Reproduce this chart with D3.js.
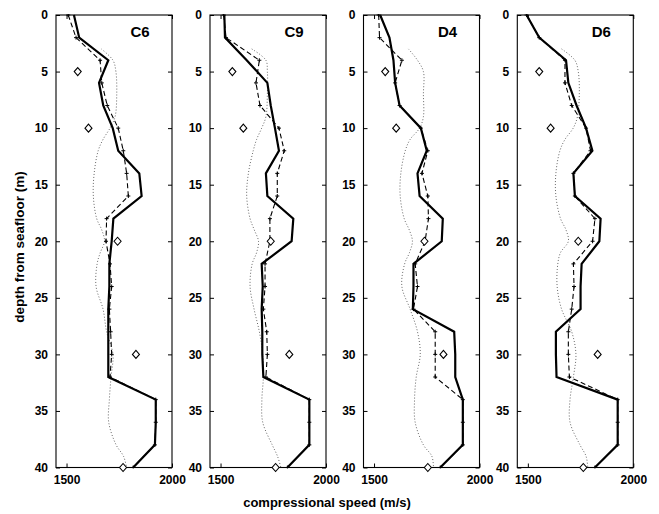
<!DOCTYPE html>
<html>
<head>
<meta charset="utf-8">
<script src="https://cdn.jsdelivr.net/npm/d3@7"></script>
<style>
  html, body { margin: 0; padding: 0; background: #fff; }
  svg { display: block; }
  text { font-family: "Liberation Sans", Arial, sans-serif; font-weight: bold; fill: #000; }
</style>
</head>
<body>
<svg id="chart" width="659" height="514"></svg>
<script>
// Site names, one panel each
const sites = ["C6", "C9", "D4", "D6"];

// Depth nodes (m) of the layered profiles
const nodeDepths = [0, 2, 4, 6, 8, 10, 12, 14, 16, 18, 20, 22, 24, 26, 28, 30, 32, 34, 36, 38, 40];

// Inverted profile, solid line (m/s)
const solidC6 = [1535, 1560, 1698, 1654, 1674, 1719, 1745, 1845, 1856, 1722, 1714, 1703, 1703, 1698, 1698, 1698, 1698, 1923, 1923, 1919, 1816];
const solidC9 = [1518, 1521, 1624, 1722, 1738, 1758, 1777, 1715, 1722, 1845, 1837, 1695, 1700, 1695, 1698, 1698, 1703, 1921, 1921, 1921, 1817];
const solidD4 = [1529, 1573, 1592, 1600, 1621, 1722, 1750, 1706, 1716, 1826, 1821, 1687, 1687, 1684, 1880, 1885, 1885, 1921, 1921, 1921, 1814];
const solidD6 = [1494, 1554, 1681, 1692, 1731, 1776, 1806, 1716, 1723, 1845, 1839, 1755, 1750, 1750, 1633, 1633, 1636, 1926, 1926, 1926, 1818];

// Second profile, dashed line with node markers (m/s)
const dashC6 = [1508, 1545, 1659, 1667, 1693, 1745, 1769, 1785, 1793, 1690, 1687, 1706, 1714, 1703, 1709, 1714, 1706, 1923, 1923, 1919, 1816];
const dashC9 = [1515, 1526, 1684, 1668, 1687, 1777, 1802, 1769, 1769, 1734, 1734, 1711, 1711, 1703, 1719, 1722, 1715, 1921, 1921, 1921, 1817];
const dashD4 = [1522, 1526, 1632, 1600, 1621, 1722, 1755, 1727, 1755, 1758, 1742, 1695, 1706, 1687, 1790, 1790, 1790, 1921, 1921, 1921, 1814];
const dashD6 = [1494, 1554, 1676, 1676, 1708, 1776, 1797, 1716, 1723, 1818, 1807, 1716, 1719, 1708, 1692, 1692, 1697, 1926, 1926, 1926, 1818];

// Smooth reference profile, dotted line
const dotDepths = [3, 4, 5, 7, 9, 10, 11, 12, 14, 16, 18, 19, 20, 21, 22, 24, 26, 28, 30, 32, 34, 36, 38, 39, 40];
const dotC6 = [1665, 1720, 1734, 1738, 1730, 1706, 1673, 1650, 1631, 1627, 1643, 1667, 1680, 1660, 1645, 1640, 1673, 1690, 1720, 1711, 1703, 1700, 1735, 1770, 1785];
const dotC9 = [1648, 1715, 1722, 1722, 1715, 1695, 1671, 1655, 1632, 1624, 1640, 1660, 1680, 1671, 1650, 1640, 1659, 1684, 1700, 1703, 1696, 1700, 1745, 1770, 1786];
const dotD4 = [1663, 1706, 1734, 1734, 1734, 1716, 1671, 1648, 1627, 1624, 1643, 1667, 1682, 1668, 1645, 1632, 1671, 1706, 1719, 1700, 1692, 1695, 1734, 1774, 1782];
const dotD6 = [1660, 1723, 1739, 1744, 1735, 1715, 1676, 1652, 1633, 1633, 1655, 1681, 1692, 1655, 1642, 1639, 1660, 1708, 1728, 1716, 1700, 1700, 1747, 1776, 1784];

// Point measurements, diamonds
const diamondDepths = [5, 10, 20, 30, 40];
const diaC6 = [1553, 1604, 1742, 1829, 1768];
const diaC9 = [1556, 1608, 1738, 1826, 1761];
const diaD4 = [1553, 1605, 1739, 1829, 1755];
const diaD6 = [1554, 1608, 1739, 1831, 1763];

// Axis ticks
const depthTicks = [0, 5, 10, 15, 20, 25, 30, 35, 40];
const speedTicks = [1500, 2000];

const panels = [
  { name: sites[0], solid: solidC6, dash: dashC6, dot: dotC6, dia: diaC6 },
  { name: sites[1], solid: solidC9, dash: dashC9, dot: dotC9, dia: diaC9 },
  { name: sites[2], solid: solidD4, dash: dashD4, dot: dotD4, dia: diaD4 },
  { name: sites[3], solid: solidD6, dash: dashD6, dot: dotD6, dia: diaD6 }
];

const svg = d3.select("#chart");
const panelLeft = [56, 210, 363.5, 517.3];
const panelW = 116;
const plotTop = 15, plotBottom = 467.5;

const y = d3.scaleLinear().domain([0, 40]).range([plotTop, plotBottom]);

panels.forEach((p, i) => {
  const x0 = panelLeft[i];
  const x = d3.scaleLinear().domain([1450, 2000]).range([x0, x0 + panelW]);
  const g = svg.append("g");

  // frame
  g.append("rect")
    .attr("x", x0).attr("y", plotTop)
    .attr("width", panelW).attr("height", plotBottom - plotTop)
    .attr("fill", "none").attr("stroke", "#000").attr("stroke-width", 1.1);

  // left axis with labels, inward ticks
  const left = g.append("g").attr("transform", `translate(${x0},0)`)
    .call(d3.axisLeft(y).tickValues(depthTicks).tickSize(-4).tickPadding(8));
  // right side inward ticks
  const right = g.append("g").attr("transform", `translate(${x0 + panelW},0)`)
    .call(d3.axisRight(y).tickValues(depthTicks).tickSize(-4).tickFormat(""));
  // bottom axis with labels
  const bot = g.append("g").attr("transform", `translate(0,${plotBottom})`)
    .call(d3.axisBottom(x).tickValues(speedTicks).tickSize(-4).tickPadding(8).tickFormat(d3.format("d")));
  const topAx = g.append("g").attr("transform", `translate(0,${plotTop})`)
    .call(d3.axisTop(x).tickValues(speedTicks).tickSize(-4).tickFormat(""));
  [left, right, bot, topAx].forEach(a => {
    a.select(".domain").remove();
    a.selectAll("line").attr("stroke", "#000").attr("stroke-width", 1);
    a.selectAll("text").attr("font-size", 12).attr("font-weight", "bold")
      .attr("font-family", "Liberation Sans, Arial, sans-serif").attr("fill", "#000");
  });

  const clip = "clip" + i;
  svg.append("clipPath").attr("id", clip).append("rect")
    .attr("x", x0).attr("y", plotTop - 1).attr("width", panelW).attr("height", plotBottom - plotTop + 2);
  const plot = g.append("g").attr("clip-path", `url(#${clip})`);

  // dotted smooth profile
  const dotLine = d3.line().x(d => x(d[1])).y(d => y(d[0])).curve(d3.curveCatmullRom.alpha(0.5));
  plot.append("path")
    .datum(dotDepths.map((d, k) => [d, p.dot[k]]))
    .attr("d", dotLine)
    .attr("fill", "none").attr("stroke", "#555").attr("stroke-width", 0.9)
    .attr("stroke-dasharray", "1,2");

  const line = d3.line().x(d => x(d[1])).y(d => y(d[0]));

  // dashed profile with node markers
  const dashPts = nodeDepths.map((d, k) => [d, p.dash[k]]);
  plot.append("path").datum(dashPts).attr("d", line)
    .attr("fill", "none").attr("stroke", "#000").attr("stroke-width", 1.1)
    .attr("stroke-dasharray", "5,3");
  plot.selectAll(".mk").data(dashPts).enter().append("path")
    .attr("d", d => {
      const cx = x(d[1]), cy = y(d[0]);
      return `M${cx - 2},${cy}H${cx + 2}M${cx},${cy - 2}V${cy + 2}`;
    })
    .attr("stroke", "#000").attr("stroke-width", 1);

  // solid profile
  plot.append("path")
    .datum(nodeDepths.map((d, k) => [d, p.solid[k]]))
    .attr("d", line)
    .attr("fill", "none").attr("stroke", "#000").attr("stroke-width", 2.2)
    .attr("stroke-linejoin", "miter");

  // diamonds
  g.selectAll(".dia").data(diamondDepths.map((d, k) => [d, p.dia[k]])).enter().append("path")
    .attr("d", d => {
      const cx = x(d[1]), cy = y(d[0]);
      return `M${cx},${cy - 4}L${cx + 3.5},${cy}L${cx},${cy + 4}L${cx - 3.5},${cy}Z`;
    })
    .attr("fill", "#fff").attr("stroke", "#000").attr("stroke-width", 1.1);

  // site label
  g.append("text")
    .attr("x", x0 + 84).attr("y", 37)
    .attr("text-anchor", "middle").attr("font-size", 15)
    .text(p.name);
});

// axis titles
svg.append("text")
  .attr("transform", "translate(24,247) rotate(-90)")
  .attr("text-anchor", "middle").attr("font-size", 13.5)
  .text("depth from seafloor (m)");
svg.append("text")
  .attr("x", 327).attr("y", 507)
  .attr("text-anchor", "middle").attr("font-size", 13)
  .text("compressional speed (m/s)");
</script>
</body>
</html>
